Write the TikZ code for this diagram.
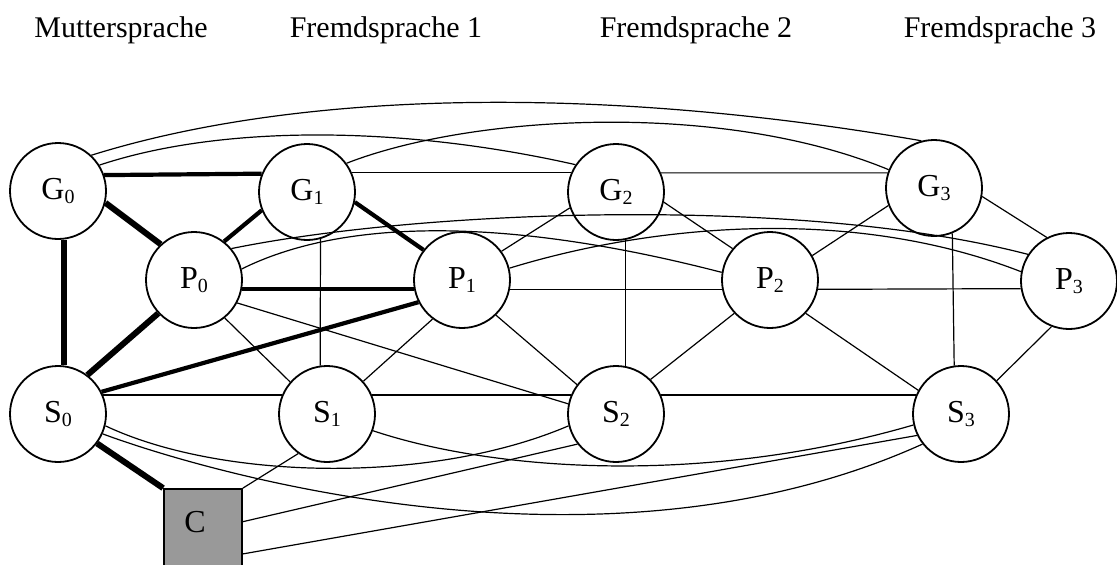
\documentclass[tikz,border=0pt]{standalone}
\usepackage{fontspec}
\setmainfont{Liberation Serif}
\definecolor{cgray}{HTML}{999999}
\newcommand{\nlab}[2]{#1{\fontsize{20}{20}\selectfont\raisebox{-4pt}{#2}}}
\begin{document}
\begin{tikzpicture}[x=1pt,y=-1pt,
  vert/.style={circle,draw,line width=1.8pt,minimum size=96pt,inner sep=0pt,font=\fontsize{32}{38}\selectfont},
  cbox/.style={rectangle,draw,line width=1.8pt,fill=cgray,minimum width=78pt,minimum height=78pt,inner sep=0pt,font=\fontsize{32}{38}\selectfont},
  head/.style={anchor=base,font=\fontsize{30}{36}\selectfont,inner sep=0pt},
  thin/.style={line width=1.2pt},
  tk/.style={line width=4.2pt},
  tkk/.style={line width=6pt}]
\fill[white] (0,0) rectangle (1117,565);
\useasboundingbox (0,0) rectangle (1117,565);
% headings
\node[head] (t0) at (121,37) {Muttersprache};
\node[head] (t1) at (386,37) {Fremdsprache 1};
\node[head] (t2) at (696,37) {Fremdsprache 2};
\node[head] (t3) at (1000,37) {Fremdsprache 3};
% nodes
\node[vert] (G0) at (58,191) {\nlab{G}{0}};
\node[vert] (G1) at (307,192) {\nlab{G}{1}};
\node[vert] (G2) at (616,192) {\nlab{G}{2}};
\node[vert] (G3) at (934,188) {\nlab{G}{3}};
\node[vert] (P0) at (194,280) {\nlab{P}{0}};
\node[vert] (P1) at (462,280) {\nlab{P}{1}};
\node[vert] (P2) at (770,280) {\nlab{P}{2}};
\node[vert] (P3) at (1069,281) {\nlab{P}{3}};
\node[vert] (S0) at (58,414) {\nlab{S}{0}};
\node[vert] (S1) at (327,414) {\nlab{S}{1}};
\node[vert] (S2) at (616,414) {\nlab{S}{2}};
\node[vert] (S3) at (961,414) {\nlab{S}{3}};
\node[cbox] (C) at (203,528) {\makebox[0pt]{\raisebox{-4pt}[0pt][0pt]{\hspace*{-16pt}C}}};
% thick edges
\draw[tk] (G0.19.5) -- (G1.158);
\draw[tkk] (G0.-14) -- (P0.133);
\draw[tk] (G1.-158) -- (P0.52);
\draw[tk] (G1.-12) -- (P1.142);
\draw[tk] (P0.-11) -- (P1.191);
\draw[tkk] (G0.-83) -- (S0.83);
\draw[tkk] (P0.-137) -- (S0.53);
\draw[tk] (P1.-153) -- (S0.27.6);
\draw[tkk] (S0.-37) -- (C.north west);
% thin straight edges
\draw[thin] (G1.23) -- (G2.157);
\draw[thin] (G2.23) -- (G3.162);
\draw[thin] (G2.-161) -- (P1.36);
\draw[thin] (G2.-12.7) -- (P2.140);
\draw[thin] (G3.-159) -- (P2.30);
\draw[thin] (G3.-10.4) -- (P3.117);
\draw[thin] (G1.-74) -- (S1.98);
\draw[thin] (G2.-79) -- (S2.79);
\draw[thin] (G3.-68) -- (S3.98.4);
\draw[thin] (P1.-11) -- (P2.191);
\draw[thin] (P2.-11) -- (P3.189.6);
\draw[thin] (P0.-51) -- (S1.139.5);
\draw[thin] (P0.-28) -- (S2.168);
\draw[thin] (P1.-127) -- (S1.42.6);
\draw[thin] (P1.-46) -- (S2.143);
\draw[thin] (P2.-137) -- (S2.45);
\draw[thin] (P2.-43) -- (S3.151);
\draw[thin] (P3.-111) -- (S3.43);
\draw[thin] (S0.23) -- (S1.157);
\draw[thin] (S1.23) -- (S2.157);
\draw[thin] (S2.23) -- (S3.157);
\draw[thin] (C.north east) -- (S1.234);
\draw[thin] (C.9) -- (S2.218.5);
\draw[thin] (C.-33) -- (S3.206.6);
% thin curves
\draw[thin] (G0.47) .. controls (300,90) and (600,85) .. (G3.105);
\draw[thin] (G0.32.5) .. controls (220,125) and (400,125) .. (G2.146.6);
\draw[thin] (G1.36.6) .. controls (470,115) and (720,100) .. (G3.158);
\draw[thin] (P0.40) .. controls (420,210) and (800,195) .. (P3.147);
\draw[thin] (P0.13) .. controls (340,220) and (500,215) .. (P2.171);
\draw[thin] (P1.14) .. controls (650,225) and (850,205) .. (P3.169);
\draw[thin] (S0.-14) .. controls (220,480) and (430,485) .. (S2.194);
\draw[thin] (S1.-20) .. controls (490,470) and (700,487) .. (S3.193.5);
\draw[thin] (S0.-24.5) .. controls (200,470) and (600,590) .. (S3.218.7);
\end{tikzpicture}
\end{document}
